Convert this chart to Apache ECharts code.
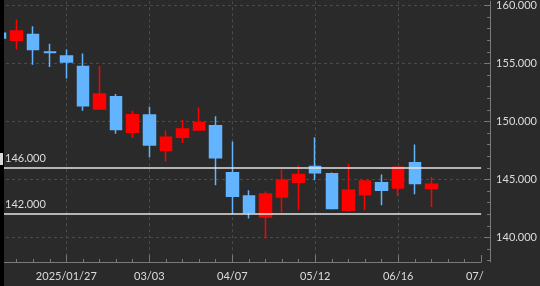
<!DOCTYPE html>
<html><head><meta charset="utf-8">
<script src="https://cdn.jsdelivr.net/npm/echarts@6/dist/echarts.min.js"></script>
<style>html,body{margin:0;padding:0;background:#2a2a2a}#c{width:540px;height:286px}</style>
</head><body><div id="c"></div>
<script>
const categories = ['2024/12/30','2025/01/06','2025/01/13','2025/01/20','2025/01/27','2025/02/03','2025/02/10','2025/02/17','2025/02/24','2025/03/03','2025/03/10','2025/03/17','2025/03/24','2025/03/31','2025/04/07','2025/04/14','2025/04/21','2025/04/28','2025/05/05','2025/05/12','2025/05/19','2025/05/26','2025/06/02','2025/06/09','2025/06/16','2025/06/23','2025/06/30','2025/07/07','2025/07/14','2025/07/21'];
const opens  = [157.6,157.0,157.5,156.0,155.65,154.73,151.07,152.13,149.06,150.56,147.49,148.64,149.27,149.64,145.58,143.57,141.77,143.49,144.75,146.12,145.49,142.34,143.69,144.72,144.26,146.44,144.21,null,null,null];
const closes = [157.2,157.8,156.2,155.95,155.13,151.36,152.36,149.30,150.58,147.98,148.64,149.36,149.92,146.87,143.55,142.15,143.74,144.92,145.43,145.58,142.49,144.06,144.86,144.06,146.06,144.64,144.58,null,null,null];
const lows   = [156.7,156.2,154.9,154.7,153.7,150.93,151.0,148.93,148.58,146.92,146.55,148.15,149.2,144.49,142.0,141.63,139.91,142.15,142.34,144.92,142.4,142.2,142.34,142.77,143.6,143.72,142.63,null,null,null];
const highs  = [158.0,158.8,158.2,156.7,156.2,155.85,154.79,152.36,150.93,151.27,149.21,150.13,151.21,150.44,148.27,144.06,143.97,145.86,146.21,148.64,145.6,146.35,144.92,145.43,146.1,148.01,145.2,null,null,null];
const yTickLabels = [140,145,150,155,160];
const yMinorTicks = [138,139,140,141,142,143,144,145,146,147,148,149,150,151,152,153,154,155,156,157,158,159,160];
const refLevels = [146,142];
const labeledWeeks = [4,9,14,19,24,29];

const BG = '#2a2a2a', AX = '#7a7a7a', TXT = '#dcdcdc', GRID = '#4b4b4b';
const FONT = 'Lato';
const yMin = 137.88, yMax = 160.37;

const candleData = categories.map((c, i) => opens[i] == null ? '-' : [opens[i], closes[i], lows[i], highs[i]]);
const isLabeled = (i) => labeledWeeks.indexOf(i) >= 0;

const chart = echarts.init(document.getElementById('c'), null, {renderer: 'canvas'});
chart.setOption({
  backgroundColor: BG,
  animation: false,
  grid: {left: 0, right: 55, top: 0, bottom: 24, containLabel: false},
  xAxis: [{
    type: 'category', data: categories, boundaryGap: false,
    axisLine: {show: true, lineStyle: {color: AX, width: 1}},
    axisTick: {show: true, interval: 0, inside: true, length: 3, lineStyle: {color: AX}},
    axisLabel: {show: false},
    splitLine: {show: true, interval: (i) => isLabeled(i) && i !== 29, lineStyle: {color: GRID, type: [3, 3], width: 1}}
  }, {
    type: 'category', data: categories, boundaryGap: false, position: 'bottom',
    axisLine: {show: false},
    axisTick: {show: true, interval: (i) => isLabeled(i), inside: true, length: 7, lineStyle: {color: AX}},
    axisLabel: {show: true, interval: (i) => isLabeled(i), margin: 9, color: TXT, fontSize: 11, fontFamily: FONT,
      formatter: (v, i) => i === 4 ? v : v.slice(5)},
    splitLine: {show: false}
  }],
  yAxis: [{
    type: 'value', position: 'right', offset: 9, min: yMin, max: yMax, scale: true,
    axisLine: {show: true, lineStyle: {color: AX, width: 1}},
    axisTick: {show: true, inside: true, length: 3, customValues: yMinorTicks, lineStyle: {color: AX}},
    axisLabel: {show: true, customValues: yTickLabels, margin: 6, color: TXT, fontSize: 11, fontFamily: FONT,
      formatter: (v) => Number(v).toFixed(3)},
    splitLine: {show: false}
  }, {
    type: 'value', position: 'right', offset: 9, min: yMin, max: yMax, scale: true,
    axisLine: {show: false},
    axisTick: {show: true, inside: true, length: 6, customValues: yTickLabels, lineStyle: {color: AX}},
    axisLabel: {show: false},
    splitLine: {show: false}
  }],
  series: [{
    type: 'scatter', data: [], xAxisIndex: 0, yAxisIndex: 0, z: 0, silent: true,
    markLine: {
      z: 0, silent: true, symbol: ['none', 'none'], animation: false,
      label: {show: false},
      data: yTickLabels.map(v => ({yAxis: v, lineStyle: {color: GRID, type: [3, 3], width: 1}}))
    }
  }, {
    type: 'candlestick', data: candleData, xAxisIndex: 0, yAxisIndex: 0, barWidth: 12, z: 2,
    itemStyle: {color: '#ff0000', color0: '#63b4ff', borderColor: '#ff0000', borderColor0: '#63b4ff', borderWidth: 1.5},
    markLine: {
      z: 5, silent: true, symbol: ['none', 'none'], animation: false,
      data: refLevels.map(v => ({
        yAxis: v,
        lineStyle: {color: '#e4e4e4', type: 'solid', width: 1.5},
        label: {show: true, position: 'insideStartTop', formatter: v.toFixed(3), color: TXT, fontSize: 11, fontFamily: FONT, distance: [5, 4]}
      }))
    }
  }],
  graphic: [
    {type: 'rect', shape: {x: 0, y: 0, width: 4, height: 286}, style: {fill: '#000'}, z: 100},
    {type: 'rect', shape: {x: 0, y: 153, width: 3, height: 12}, style: {fill: '#d8d8d8'}, z: 101},
    {type: 'rect', shape: {x: 484, y: 266, width: 56, height: 20}, style: {fill: BG}, z: 100}
  ]
});
</script></body></html>
